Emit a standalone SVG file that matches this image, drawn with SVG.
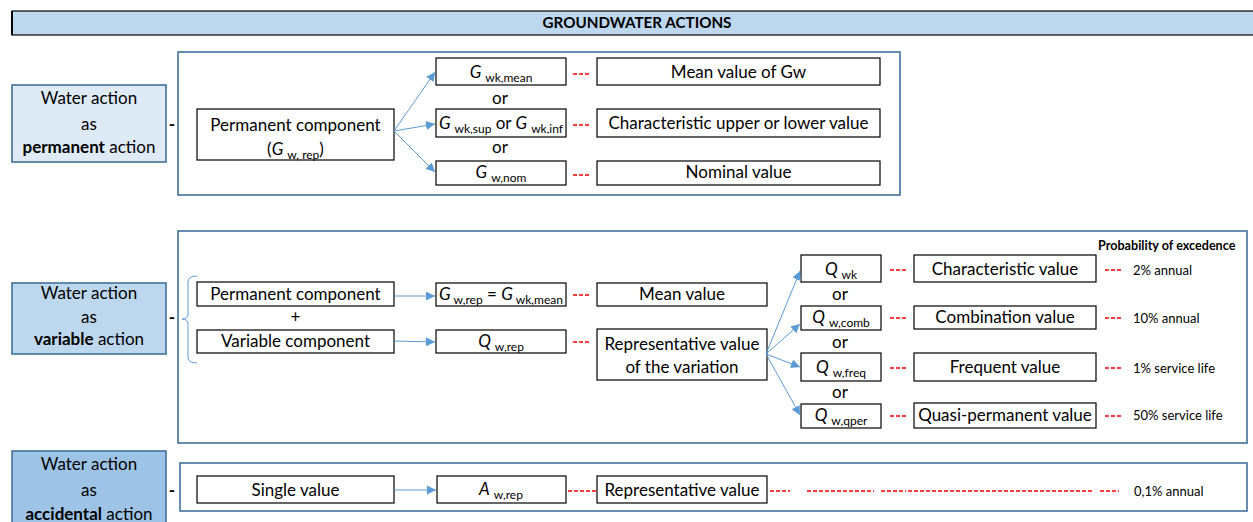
<svg xmlns="http://www.w3.org/2000/svg" width="1253" height="522" viewBox="0 0 1253 522">
<defs>
<marker id="ah" viewBox="0 0 10 10" refX="10" refY="5" markerWidth="9" markerHeight="9" markerUnits="userSpaceOnUse" orient="auto">
<path d="M0,0 L10,5 L0,10 z" fill="#5B9BD5"/>
</marker>
<style>
text{font-family:Lato,"Liberation Sans",sans-serif;fill:#000}
.t{font-size:17px;text-anchor:middle}
.s{font-size:12px}
.i{font-style:italic}
.b{font-weight:bold}
.box{fill:#fff;stroke:#000;stroke-width:1.2}
.outer{fill:#fff;stroke:#41719C;stroke-width:1.6}
.lb{stroke:#41719C;stroke-width:1.6}
.arr{stroke:#5B9BD5;stroke-width:1;fill:none;marker-end:url(#ah)}
.rd{stroke:#FF0000;stroke-width:1.5;stroke-dasharray:4 2;fill:none}
.pct{font-size:13px}
</style>
</defs>

<g id="header">
<rect x="12" y="11" width="1250" height="24" fill="#BDD7EE" stroke="#000" stroke-width="1.2"/>
<line x1="12" y1="11" x2="12" y2="35" stroke="#000" stroke-width="2"/>
<text x="637" y="28" class="b" font-size="15.2" text-anchor="middle">GROUNDWATER ACTIONS</text>
</g>

<!-- Section 1: permanent -->
<g id="perm-label">
<rect x="12" y="85" width="154" height="77" fill="#DEEBF7" class="lb"/>
<text class="t" x="89" y="104">Water action</text>
<text class="t" x="89" y="130">as</text>
<text class="t" x="89" y="153"><tspan class="b">permanent</tspan> action</text>
<text class="t b" x="172" y="130">-</text>
</g>
<g id="perm-frame"><rect x="178" y="52" width="722" height="143" class="outer"/></g>
<g id="perm-comp">
<rect x="197" y="109" width="197" height="51" class="box"/>
<text class="t" x="295.5" y="131">Permanent component</text>
<text class="t" x="295.5" y="155">(<tspan class="i">G</tspan><tspan class="s" dx="4" dy="4">w, rep</tspan><tspan dy="-4">)</tspan></text>
</g>
<g id="g-mean">
<rect x="436" y="58" width="130" height="27" class="box"/>
<text class="t" x="501" y="78"><tspan class="i">G</tspan><tspan class="s" dx="4" dy="4">wk,mean</tspan></text>
</g>
<g id="g-supinf">
<rect x="436" y="109" width="130" height="28" class="box"/>
<text class="t" x="501" y="129"><tspan class="i">G</tspan><tspan class="s" dx="4" dy="4">wk,sup</tspan><tspan dy="-4"> or </tspan><tspan class="i">G</tspan><tspan class="s" dx="4" dy="4">wk,inf</tspan></text>
</g>
<g id="g-nom">
<rect x="436" y="161" width="130" height="24" class="box"/>
<text class="t" x="501" y="178"><tspan class="i">G</tspan><tspan class="s" dx="4" dy="4">w,nom</tspan></text>
</g>
<g id="or-perm">
<text class="t" x="500" y="104">or</text>
<text class="t" x="500" y="153">or</text>
</g>
<g id="v-meangw">
<rect x="597" y="58" width="283" height="27" class="box"/>
<text class="t" x="738.5" y="78">Mean value of Gw</text>
</g>
<g id="v-char">
<rect x="597" y="109" width="283" height="28" class="box"/>
<text class="t" x="738.5" y="129">Characteristic upper or lower value</text>
</g>
<g id="v-nom">
<rect x="597" y="161" width="283" height="24" class="box"/>
<text class="t" x="738.5" y="178">Nominal value</text>
</g>

<!-- Section 2: variable -->
<g id="var-label">
<rect x="12" y="283" width="154" height="71" fill="#BDD7EE" class="lb"/>
<text class="t" x="89" y="299">Water action</text>
<text class="t" x="89" y="323">as</text>
<text class="t" x="89" y="345"><tspan class="b">variable</tspan> action</text>
<text class="t b" x="172" y="323">-</text>
</g>
<g id="var-frame"><rect x="178" y="231" width="1069" height="212" class="outer"/></g>
<g id="var-perm">
<rect x="197" y="282" width="197" height="24" class="box"/>
<text class="t" x="295.5" y="300">Permanent component</text>
<text class="t" x="295.5" y="323">+</text>
</g>
<g id="var-var">
<rect x="197" y="330" width="197" height="23" class="box"/>
<text class="t" x="295.5" y="347">Variable component</text>
</g>
<g id="g-rep">
<rect x="436" y="283" width="130" height="23" class="box"/>
<text class="t" x="501" y="300"><tspan class="i">G</tspan><tspan class="s" dx="3" dy="4">w,rep</tspan><tspan dy="-4"> = </tspan><tspan class="i">G</tspan><tspan class="s" dx="3" dy="4">wk,mean</tspan></text>
</g>
<g id="q-rep">
<rect x="436" y="330" width="130" height="23" class="box"/>
<text class="t" x="501" y="347"><tspan class="i">Q</tspan><tspan class="s" dx="4" dy="4">w,rep</tspan></text>
</g>
<g id="v-mean">
<rect x="597" y="283" width="170" height="23" class="box"/>
<text class="t" x="682" y="300">Mean value</text>
</g>
<g id="v-repvar">
<rect x="597" y="329" width="170" height="51" class="box"/>
<text class="t" x="682" y="350">Representative value</text>
<text class="t" x="682" y="373">of the variation</text>
</g>
<g id="q-wk">
<rect x="801" y="255" width="80" height="27" class="box"/>
<text class="t" x="841" y="275"><tspan class="i">Q</tspan><tspan class="s" dx="4" dy="4">wk</tspan></text>
</g>
<g id="q-comb">
<rect x="801" y="306" width="80" height="24" class="box"/>
<text class="t" x="841" y="323"><tspan class="i">Q</tspan><tspan class="s" dx="4" dy="4">w,comb</tspan></text>
</g>
<g id="q-freq">
<rect x="801" y="353" width="80" height="28" class="box"/>
<text class="t" x="841" y="373"><tspan class="i">Q</tspan><tspan class="s" dx="4" dy="4">w,freq</tspan></text>
</g>
<g id="q-qper">
<rect x="801" y="404" width="80" height="24" class="box"/>
<text class="t" x="841" y="421"><tspan class="i">Q</tspan><tspan class="s" dx="4" dy="4">w,qper</tspan></text>
</g>
<g id="or-var">
<text class="t" x="840" y="300">or</text>
<text class="t" x="840" y="348">or</text>
<text class="t" x="840" y="398">or</text>
</g>
<g id="v-charv">
<rect x="914" y="255" width="182" height="27" class="box"/>
<text class="t" x="1005" y="275">Characteristic value</text>
</g>
<g id="v-comb">
<rect x="914" y="306" width="182" height="23" class="box"/>
<text class="t" x="1005" y="323">Combination value</text>
</g>
<g id="v-freq">
<rect x="914" y="353" width="182" height="28" class="box"/>
<text class="t" x="1005" y="373">Frequent value</text>
</g>
<g id="v-qper">
<rect x="914" y="403" width="182" height="25" class="box"/>
<text class="t" x="1005" y="421">Quasi-permanent value</text>
</g>
<g id="prob">
<text class="b" x="1098" y="250" font-size="12.6">Probability of excedence</text>
<text class="pct" x="1133" y="275">2% annual</text>
<text class="pct" x="1133" y="323">10% annual</text>
<text class="pct" x="1133" y="373">1% service life</text>
<text class="pct" x="1133" y="420">50% service life</text>
</g>

<!-- Section 3: accidental -->
<g id="acc-label">
<rect x="12" y="451" width="154" height="80" fill="#9DC3E6" class="lb"/>
<text class="t" x="89" y="470">Water action</text>
<text class="t" x="89" y="496">as</text>
<text class="t" x="89" y="520"><tspan class="b">accidental</tspan> action</text>
<text class="t b" x="172" y="496">-</text>
</g>
<g id="acc-frame"><rect x="180" y="463" width="1067" height="48" class="outer"/></g>
<g id="acc-single">
<rect x="197" y="476" width="197" height="27" class="box"/>
<text class="t" x="295.5" y="496">Single value</text>
</g>
<g id="a-rep">
<rect x="437" y="476" width="129" height="27" class="box"/>
<text class="t" x="501" y="495"><tspan class="i">A</tspan><tspan class="s" dx="4" dy="4">w,rep</tspan></text>
</g>
<g id="v-repacc">
<rect x="597" y="476" width="170" height="27" class="box"/>
<text class="t" x="682" y="496">Representative value</text>
</g>
<g id="acc-pct">
<text class="pct" x="1134" y="496">0,1% annual</text>
</g>

<g id="connectors">
<path class="arr" d="M394,131 L435,72"/>
<path class="arr" d="M394,131 L435,124"/>
<path class="arr" d="M394,131 L435,172"/>
<path class="arr" d="M394,296 L435,296"/>
<path class="arr" d="M394,341 L435,342"/>
<path class="arr" d="M766,354 L800,271"/>
<path class="arr" d="M766,354 L800,324"/>
<path class="arr" d="M766,354 L800,367"/>
<path class="arr" d="M766,354 L800,415"/>
<path class="arr" d="M394,490 L436,490"/>
<path d="M197,276 Q188,276 188,282 L188,314 Q188,319 182,319 Q188,319 188,324 L188,357 Q188,363 197,363" fill="none" stroke="#5B9BD5" stroke-width="1"/>
<path class="rd" d="M573,74 H590 M573,125 H590 M573,175 H590"/>
<path class="rd" d="M573,295 H590 M573,342 H590"/>
<path class="rd" d="M890,270 H906 M890,318 H906 M890,368 H906 M890,416 H906"/>
<path class="rd" d="M1105,270 H1121 M1105,318 H1121 M1105,368 H1121 M1105,416 H1121"/>
<path class="rd" d="M568,491 H596 M770,491 H790 M807,491 H874 M881,491 H906 M908,491 H1093 M1100,491 H1119"/>
</g>
</svg>
